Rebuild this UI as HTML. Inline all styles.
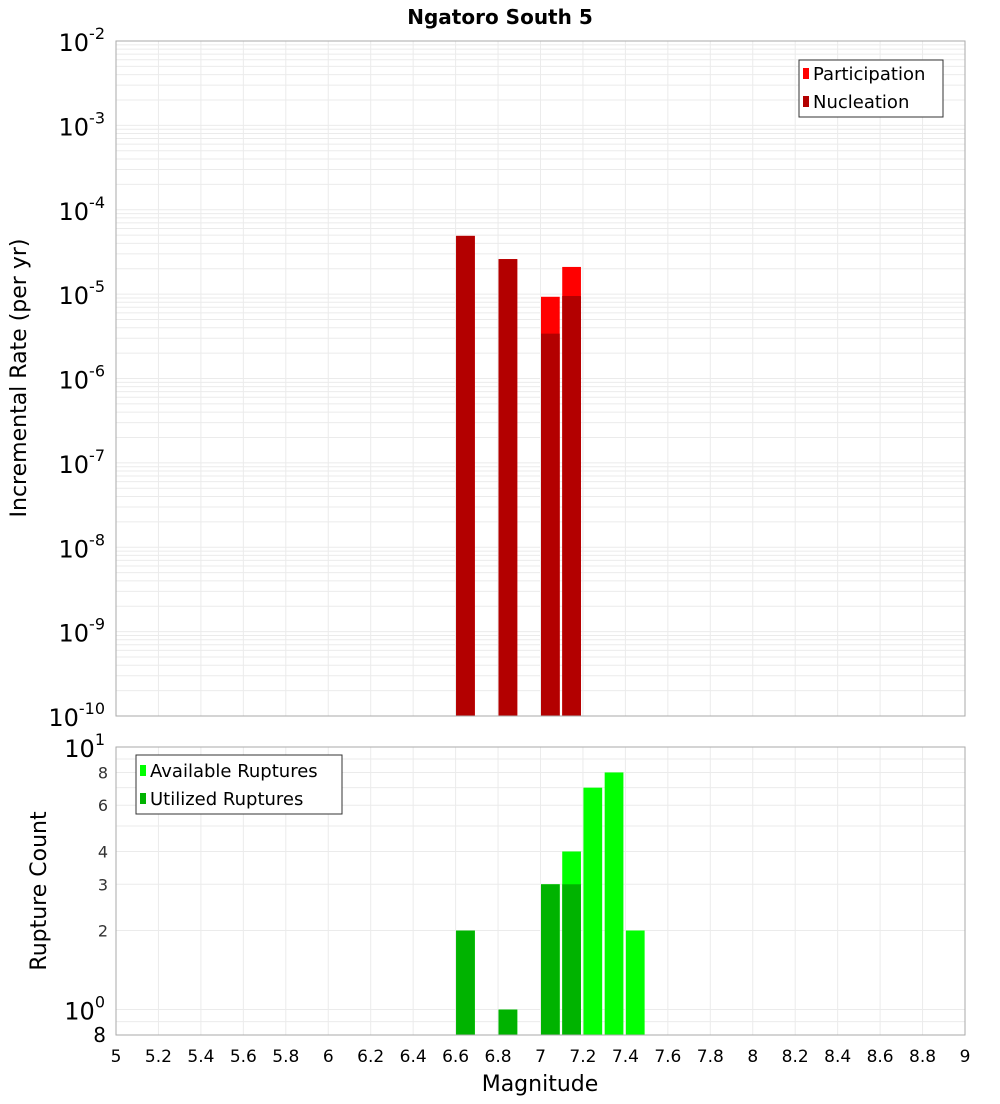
<!DOCTYPE html>
<html><head><meta charset="utf-8"><style>
body{margin:0;background:#fff;font-family:"DejaVu Sans","Liberation Sans",sans-serif}
svg text{font-family:"DejaVu Sans","Liberation Sans",sans-serif}
</style></head><body>
<svg id="c" width="1000" height="1100" xmlns="http://www.w3.org/2000/svg">
<text x="500" y="24" text-anchor="middle" font-size="20" font-weight="bold">Ngatoro South 5</text>
<g id="topPanel"></g>
<g id="botPanel"></g>
<text transform="translate(26,378) rotate(-90)" text-anchor="middle" font-size="22">Incremental Rate (per yr)</text>
<text transform="translate(46,891) rotate(-90)" text-anchor="middle" font-size="22">Rupture Count</text>
<text x="540" y="1091" text-anchor="middle" font-size="22">Magnitude</text>
<g id="legends">
<g>
<rect x="799" y="60" width="144" height="57" fill="#fff" stroke="#333"/>
<rect x="803" y="68" width="6" height="11" fill="#ff0000"/>
<text x="813" y="80" font-size="18">Participation</text>
<rect x="803" y="96" width="6" height="11" fill="#b30000"/>
<text x="813" y="108" font-size="18">Nucleation</text>
</g>
<g>
<rect x="136" y="755" width="206" height="59" fill="#fff" stroke="#333"/>
<rect x="140" y="765" width="6" height="11" fill="#00ff00"/>
<text x="150" y="777" font-size="18">Available Ruptures</text>
<rect x="140" y="793" width="6" height="11" fill="#00b300"/>
<text x="150" y="805" font-size="18">Utilized Ruptures</text>
</g>
</g>
</svg>
<script>
const rateMags=[6.65,6.85,7.05,7.15];
const participation=[4.9e-5,2.6e-5,9.3e-6,2.1e-5];
const nucleation=[4.9e-5,2.6e-5,3.4e-6,9.5e-6];
const countMags=[6.65,6.85,7.05,7.15,7.25,7.35,7.45];
const available=[2,1,3,4,7,8,2];
const utilized=[2,1,3,3,0,0,0];
const xTicks=[5,5.2,5.4,5.6,5.8,6,6.2,6.4,6.6,6.8,7,7.2,7.4,7.6,7.8,8,8.2,8.4,8.6,8.8,9];
const rateExps=[-2,-3,-4,-5,-6,-7,-8,-9,-10];
const countTicks=[2,3,4,6,8];

const NS="http://www.w3.org/2000/svg";
const L=116,R=965,T1=41,B1=716,T2=747,B2=1035;
const x=m=>L+(m-5)/4*(R-L);
const y1=v=>T1+(-2-Math.log10(v))/8*(B1-T1);
const y2=v=>T2+(1-Math.log10(v))/(1-Math.log10(0.8))*(B2-T2);
function mk(p,t,a){const e=document.createElementNS(NS,t);for(const k in a)e.setAttribute(k,a[k]);p.appendChild(e);return e;}
const topG=document.getElementById('topPanel'),botG=document.getElementById('botPanel');
for(let d=-10;d<-2;d++)for(let k=1;k<10;k++){const yy=y1(k*Math.pow(10,d));const g=mk(topG,'line',{x1:L,x2:R,y1:yy,y2:yy,stroke:'#ebebeb'});

}
[0.8,0.9,1,2,3,4,5,6,7,8,9,10].forEach(v=>{const yy=y2(v);const g=mk(botG,'line',{x1:L,x2:R,y1:yy,y2:yy,stroke:'#ebebeb'});

});
xTicks.forEach(t=>{const xx=x(t);
const g=mk(topG,'line',{x1:xx,x2:xx,y1:T1,y2:B1,stroke:'#ebebeb'});


const g2=mk(botG,'line',{x1:xx,x2:xx,y1:T2,y2:B2,stroke:'#ebebeb'});


const tx=mk(botG,'text',{x:xx,y:1062,'text-anchor':'middle','font-size':17});tx.textContent=String(t);

});
rateMags.forEach((m,i)=>{const x0=x(m-0.05)+0.5,w=x(m+0.05)-x(m-0.05)-2.5;
const p=mk(topG,'rect',{x:x0,y:y1(participation[i]),width:w,height:B1-y1(participation[i]),fill:'#ff0000'});


const n=mk(topG,'rect',{x:x0,y:y1(nucleation[i]),width:w,height:B1-y1(nucleation[i]),fill:'#b30000'});

});
countMags.forEach((m,i)=>{const x0=x(m-0.05)+0.5,w=x(m+0.05)-x(m-0.05)-2.5;
if(available[i]>0){const a=mk(botG,'rect',{x:x0,y:y2(available[i]),width:w,height:B2-y2(available[i]),fill:'#00ff00'});

}
if(utilized[i]>0){const u=mk(botG,'rect',{x:x0,y:y2(utilized[i]),width:w,height:B2-y2(utilized[i]),fill:'#00b300'});

}});
const f1=mk(topG,'rect',{x:L,y:T1,width:R-L,height:B1-T1,fill:'none',stroke:'#aaa'});


const f2=mk(botG,'rect',{x:L,y:T2,width:R-L,height:B2-T2,fill:'none',stroke:'#aaa'});


rateExps.forEach(e=>{const yy=y1(Math.pow(10,e));const t=mk(topG,'text',{x:105,y:yy+10,'text-anchor':'end','font-size':24});
t.innerHTML='10<tspan dy="-12" font-size="16">'+e+'</tspan>';

});
const t10=mk(botG,'text',{x:105,y:y2(10)+10,'text-anchor':'end','font-size':24});t10.innerHTML='10<tspan dy="-12" font-size="16">1</tspan>';


const t1=mk(botG,'text',{x:105,y:y2(1)+10,'text-anchor':'end','font-size':24});t1.innerHTML='10<tspan dy="-12" font-size="16">0</tspan>';


countTicks.forEach(v=>{const t=mk(botG,'text',{x:108,y:y2(v)+6,'text-anchor':'end','font-size':16,fill:'#333'});t.textContent=v;

});
const t8=mk(botG,'text',{x:106,y:1042,'text-anchor':'end','font-size':20});t8.textContent='8';


</script>
</body></html>
